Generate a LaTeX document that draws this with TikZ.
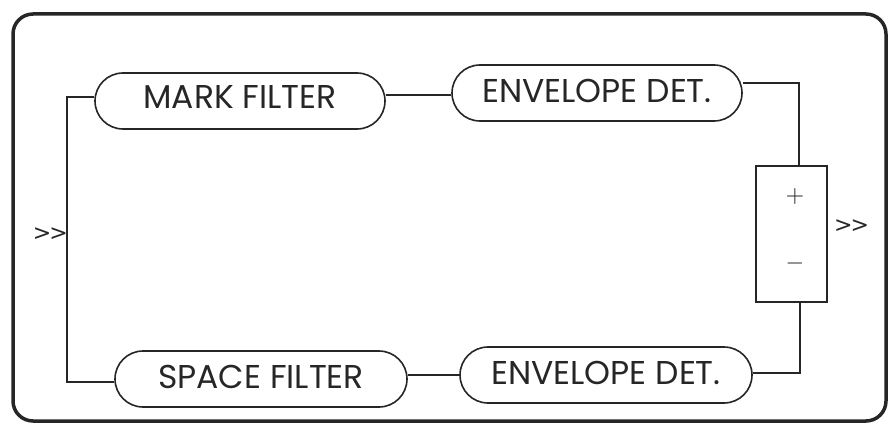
\documentclass[tikz,border=0pt]{standalone}
\usepackage{fontspec}
\usepackage{graphicx}
\setmainfont{Poppins}[Ligatures=NoCommon]
\newfontfamily\chevfont{DejaVu Sans}[Ligatures=NoCommon]
\definecolor{ink}{HTML}{262626}
\tikzset{
  wire/.style={draw=ink, line width=1.4pt},
  pill/.style={draw=ink, line width=1.6pt, rounded corners=28pt,
    minimum height=56pt, inner sep=0pt, text=ink, font=\fontsize{33}{33}\selectfont},
  sumbox/.style={draw=ink, line width=1.6pt, minimum width=71pt, minimum height=136pt, inner sep=0pt},
  marktxt/.style={text=ink, inner sep=0pt},
  chevtxt/.style={text=ink, inner sep=0pt, font=\chevfont\fontsize{22}{22}\selectfont},
}
\newcommand{\chev}{>\kern-2pt>}
\newcommand{\bigsign}[1]{\scalebox{2.4}{$#1$}}
\begin{document}
\begin{tikzpicture}[x=1pt, y=-1pt]
  \useasboundingbox (0,0) rectangle (892,425);
  % outer frame
  \draw[draw=ink, line width=3.5pt, rounded corners=20pt] (13,14) rectangle (886,421);

  % filters and detectors
  \node[pill, minimum width=290pt] (mf) at (240,101) {\raisebox{8pt}{MARK FILTER}};
  \node[pill, minimum width=290pt] (ed1) at (597,93) {\raisebox{5pt}{ENVELOPE DET.}};
  \node[pill, minimum width=292pt] (sf) at (261,379) {\raisebox{4pt}{SPACE FILTER}};
  \node[pill, minimum width=292pt] (ed2) at (606,375) {\raisebox{5pt}{ENVELOPE DET.}};

  % summing box
  \node[sumbox] (sum) at (791.5,234) {};
  \node[marktxt] (plus) at (795,197) {\bigsign{+}};
  \node[marktxt] (minus) at (795,263) {\bigsign{-}};

  % input / output marks
  \coordinate (in) at (67,234);
  \node[chevtxt, anchor=east] (inmark) at ([xshift=1pt]in) {\chev};
  \node[chevtxt, anchor=west] (outmark) at (834,226) {\chev};

  % connections
  \draw[wire] ([yshift=4pt]mf.west) -| (in) |- ([yshift=-3pt]sf.west);
  \draw[wire] ([yshift=6pt]mf.east) -- ([yshift=-2pt]ed1.west);
  \draw[wire] ([yshift=10pt]ed1.east) -| ([xshift=7.5pt]sum.north);
  \draw[wire] ([yshift=4pt]sf.east) -- (ed2.west);
  \draw[wire] ([yshift=2pt]ed2.east) -| ([xshift=8.5pt]sum.south);
\end{tikzpicture}
\end{document}
